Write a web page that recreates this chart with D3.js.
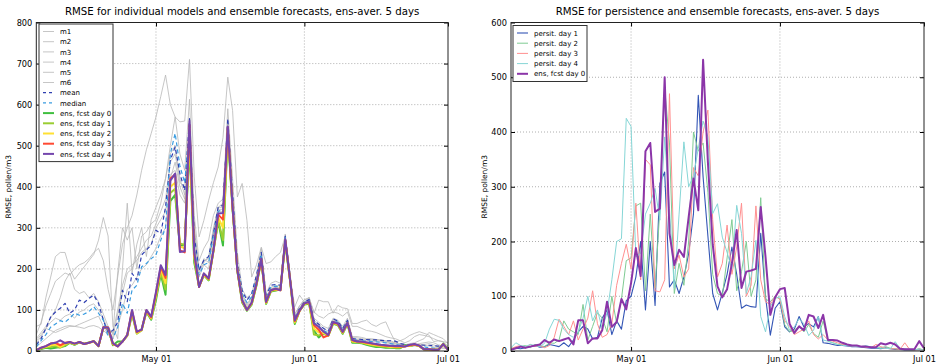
<!DOCTYPE html>
<html>
<head>
<meta charset="utf-8">
<script src="https://cdn.jsdelivr.net/npm/d3@7"></script>
<style>
body { margin: 0; background: #fff; }
text { font-family: "DejaVu Sans", sans-serif; fill: #000; }
</style>
</head>
<body>
<svg id="chart" width="938" height="364"></svg>
<script>
// daily values, Apr 06 .. Jul 01
var days = d3.timeDay.range(new Date(2014, 3, 6), new Date(2014, 6, 2));
var xTickDates = [new Date(2014, 4, 1), new Date(2014, 5, 1), new Date(2014, 6, 1)];

// individual models
var m1 = [40,70,110,140,170,180,190,185,200,210, 215,225,240,250,220,150,100,180,260,300,
  330,380,440,490,530,570,620,672,600,570, 558,560,710,424,278,318,367,410,448,520,
  667,586,375,408,318,180,210,253,213,217, 230,240,280,180,108,136,119,131,92,124,
  120,120,92,111,105,103,67,67,72,75, 65,60,67,71,45,22,25,30,38,43, 47,43,39,23,25,23,20];
var m2 = [60,65,130,180,230,240,240,200,175,190, 205,220,235,270,325,280,60,30,200,360,
  190,260,300,230,320,350,380,420,500,570, 480,440,613,330,220,250,270,330,360,370,
  590,420,240,150,130,140,185,250,140,165, 170,165,285,190,90,110,125,130,80,70,
  60,55,80,75,60,80,35,35,33,30, 30,28,27,25,25,20,15,15,18,20, 25,30,45,40,35,30,18];
var m3 = [30,45,60,80,100,130,170,190,150,140, 145,130,140,120,90,60,40,190,300,270,
  300,200,280,290,310,320,360,420,480,500, 420,380,520,290,190,215,230,300,350,360,
  560,380,215,140,115,130,175,240,130,155, 160,158,278,185,85,104,120,125,75,65,
  55,48,76,72,55,75,33,32,30,28, 28,28,26,24,22,20,18,16,14,16, 18,20,22,20,15,12,10];
var m4 = [20,35,55,70,80,75,85,90,80,95, 100,110,115,100,80,50,45,100,160,200,
  210,220,240,250,260,300,320,340,430,440, 380,360,520,300,200,220,225,290,350,350,
  545,365,210,135,112,128,170,232,125,150, 155,152,275,183,80,102,118,122,70,62,
  50,42,73,70,50,72,30,28,27,26, 25,25,24,22,20,18,17,15,12,14, 15,16,18,15,10,8,8];
var m5 = [10,20,30,40,50,55,60,62,60,65, 70,75,80,85,60,40,30,60,100,150,
  160,180,200,210,230,250,280,300,420,460, 400,370,540,290,180,210,200,280,340,340,
  540,360,200,128,105,120,168,230,122,150, 152,150,272,182,78,100,117,121,68,60,
  48,40,72,68,48,70,28,26,25,24, 24,23,22,20,18,16,15,13,12,12, 14,14,12,10,8,6,6];
var m6 = [25,40,55,50,45,50,55,60,60,58, 55,60,62,58,50,40,35,90,140,190,
  200,230,250,270,280,310,340,370,460,480, 410,400,560,300,195,225,215,285,345,345,
  550,370,205,130,108,124,172,235,125,152, 155,152,270,180,90,110,125,128,95,85,
  80,90,95,92,85,95,60,60,55,50, 48,45,40,35,32,30,25,20,25,35, 40,38,35,30,25,22,12];

var meanVals = [15,30,55,83,95,104,116,92,100,124, 118,128,136,116,75,45,50,70,148,120,
  189,173,234,246,258,294,286,351,465,497, 432,391,566,278,197,221,230,286,351,355,
  566,383,217,148,124,140,185,240,135,160, 162,160,280,185,82,104,120,125,75,65,
  55,48,78,73,55,75,30,29,28,28, 27,27,26,25,25,24,18,16,15,15, 15,14,14,13,12,14,10];
var medianVals = [10,25,40,58,66,74,70,80,92,87, 90,96,108,92,75,35,31,58,116,92,
  148,160,205,213,225,234,270,300,480,530, 450,410,540,260,185,210,215,280,340,345,
  540,370,210,140,118,132,175,235,130,155, 158,155,276,182,80,102,118,122,70,60,
  50,44,74,70,52,72,28,26,25,24, 23,22,21,20,18,16,14,13,13,14, 13,10,8,7,6,14,6];

// ensemble forecasts, day 0..4
var ens0 = [2,5,8,6,8,10,12,20,15,21, 18,21,24,12,56,56,14,23,23,38,
  90,44,53,95,76,124,188,137,365,380, 254,260,500,215,157,185,172,245,315,257,
  532,345,195,118,98,113,160,221,115,145, 147,150,263,172,66,98,113,115,50,33,
  45,38,66,63,42,66,20,20,19,15, 12,10,10,8,8,7,7,14,12,15, 12,4,3,3,3,18,5];
var ens1 = [2,6,9,10,12,8,14,20,16,21, 17,20,23,12,57,56,16,14,23,37,
  92,42,50,96,78,130,192,150,385,395, 262,258,515,225,157,185,173,242,318,270,
  535,347,195,120,99,115,162,222,116,146, 148,149,266,173,68,98,114,117,40,38,
  42,37,67,64,43,67,22,21,20,17, 14,12,11,10,9,8,8,12,12,15, 12,4,3,3,3,17,4];
var ens2 = [2,7,10,14,16,10,17,21,17,22, 17,20,23,12,57,57,17,12,23,38,
  96,44,51,98,80,137,200,165,400,410, 255,250,530,232,156,187,175,244,325,300,
  540,349,196,122,100,116,163,223,118,147, 150,148,268,174,71,98,115,118,55,45,
  44,38,69,65,45,68,24,22,21,18, 16,14,13,12,10,10,10,12,13,16, 12,4,3,3,3,17,3];
var ens3 = [2,8,12,18,20,14,20,22,18,22, 17,20,24,12,58,57,18,11,23,39,
  98,46,52,99,82,140,205,178,420,430, 245,240,550,236,156,188,176,245,332,320,
  545,350,197,123,100,117,164,224,119,148, 151,148,270,175,73,98,116,119,63,52,
  33,38,70,66,46,68,26,23,22,20, 18,16,14,13,12,11,11,11,14,16, 13,4,4,3,3,17,3];
var ens4 = [2,8,12,18,20,26,19,22,18,22, 17,20,24,12,58,57,19,11,23,39,
  100,47,52,100,84,144,209,185,415,432, 241,243,560,240,156,189,177,245,335,336,
  547,351,197,124,100,118,165,225,120,148, 152,148,272,175,75,99,116,120,67,59,
  47,39,71,67,47,69,27,23,23,21, 19,17,15,14,13,12,12,11,15,17, 13,4,4,3,3,17,3];

// persistence forecasts
var persit1 = [3,5,4,6,8,10,7,8,12,10, 8,15,8,20,35,45,40,22,25,60,
  75,30,55,40,92,100,135,200,75,200, 83,306,327,117,130,105,135,178,251,467,
  318,210,105,75,106,140,190,140,78,84, 81,80,215,99,29,78,90,44,35,40,
  63,44,50,44,63,15,14,12,10,10, 9,8,8,7,6,5,5,4,6,4, 3,3,2,2,2,3,2];
var persit2 = [5,6,8,10,6,12,10,8,15,14, 20,55,40,35,30,85,20,45,70,60,
  35,100,50,95,165,170,265,270,110,250, 115,260,480,380,105,160,120,200,400,365,
  380,290,140,105,100,170,240,110,145,200, 100,130,280,95,90,100,95,48,35,38,
  45,35,48,32,25,55,18,15,12,12, 11,10,9,8,8,7,6,6,8,5, 4,3,3,2,2,4,2];
var persit3 = [4,8,10,5,12,8,10,6,10,25, 58,45,30,55,20,40,60,110,50,25,
  30,50,120,160,195,150,270,130,350,340, 110,108,130,470,150,175,135,150,335,320,
  400,440,240,135,160,230,140,190,270,100, 120,265,130,90,85,100,95,55,45,30,
  35,40,55,30,22,30,20,18,15,12, 10,9,8,8,7,6,12,8,5,4, 4,3,15,3,2,2,2];
var persit4 = [6,15,10,8,12,10,8,14,40,58, 56,40,30,25,35,60,100,55,75,40,
  70,130,200,205,425,410,172,178,250,270, 297,239,391,260,115,250,382,300,320,370,
  420,391,251,269,208,180,150,266,215,105, 136,202,63,35,81,96,99,63,38,44,
  59,50,28,38,63,20,18,15,12,10, 10,9,8,8,10,7,6,5,5,4, 17,5,4,3,3,2,2];

var svg = d3.select("#chart");

function drawPanel(p) {
    var x = d3.scaleTime().domain([days[0], days[days.length - 1]]).range([p.x0, p.x1]);
    var y = d3.scaleLinear().domain([0, p.yMax]).range([p.y1, p.y0]);
    var g = svg.append("g");

    // dotted grid
    g.selectAll(".gy").data(d3.range(100, p.yMax, 100)).enter().append("line")
        .attr("x1", p.x0).attr("x2", p.x1)
        .attr("y1", function(d) { return y(d); }).attr("y2", function(d) { return y(d); })
        .attr("stroke", "#9a9a9a").attr("stroke-width", 0.8).attr("stroke-dasharray", "1,2");
    g.selectAll(".gx").data(xTickDates.slice(0, 2)).enter().append("line")
        .attr("y1", p.y0).attr("y2", p.y1)
        .attr("x1", function(d) { return x(d); }).attr("x2", function(d) { return x(d); })
        .attr("stroke", "#9a9a9a").attr("stroke-width", 0.8).attr("stroke-dasharray", "1,2");

    svg.append("clipPath").attr("id", p.id + "clip").append("rect")
        .attr("x", p.x0).attr("y", p.y0).attr("width", p.x1 - p.x0).attr("height", p.y1 - p.y0);

    var line = d3.line()
        .x(function(d, i) { return x(days[i]); })
        .y(function(d) { return y(d); });

    g.append("g").attr("clip-path", "url(#" + p.id + "clip)")
        .selectAll("path").data(p.series).enter().append("path")
        .attr("d", function(s) { return line(s.values); })
        .attr("fill", "none")
        .attr("stroke", function(s) { return s.color; })
        .attr("stroke-width", function(s) { return s.width; })
        .attr("stroke-dasharray", function(s) { return s.dash || null; })
        .attr("stroke-linejoin", "round");

    // axes with inward ticks on all sides
    var yTicks = d3.range(0, p.yMax + 1, 100);
    var ax = [
        g.append("g").attr("transform", "translate(" + p.x0 + ",0)")
            .call(d3.axisLeft(y).tickValues(yTicks).tickSize(-4).tickPadding(4)),
        g.append("g").attr("transform", "translate(" + p.x1 + ",0)")
            .call(d3.axisRight(y).tickValues(yTicks).tickSize(-4).tickFormat("")),
        g.append("g").attr("transform", "translate(0," + p.y1 + ")")
            .call(d3.axisBottom(x).tickValues(xTickDates).tickSize(-4).tickPadding(5)
                .tickFormat(d3.timeFormat("%b %d"))),
        g.append("g").attr("transform", "translate(0," + p.y0 + ")")
            .call(d3.axisTop(x).tickValues(xTickDates).tickSize(-4).tickFormat(""))
    ];
    ax.forEach(function(a) {
        a.select(".domain").remove();
        a.selectAll("text").attr("font-size", 8.2).attr("font-family", "DejaVu Sans");
        a.selectAll("line").attr("stroke", "#000");
    });

    g.append("rect").attr("x", p.x0).attr("y", p.y0)
        .attr("width", p.x1 - p.x0).attr("height", p.y1 - p.y0)
        .attr("fill", "none").attr("stroke", "#222").attr("stroke-width", 1);

    g.append("text").attr("x", (p.x0 + p.x1) / 2).attr("y", 15)
        .attr("text-anchor", "middle").attr("font-size", 10.2).text(p.title);
    g.append("text")
        .attr("transform", "translate(" + p.labelX + "," + ((p.y0 + p.y1) / 2) + ") rotate(-90)")
        .attr("text-anchor", "middle").attr("font-size", 7.5).text("RMSE, pollen/m3");

    // legend
    var lg = g.append("g");
    var step = 10.2;
    lg.append("rect").attr("x", p.lx).attr("y", p.ly)
        .attr("width", p.lw).attr("height", p.series.length * step + 5)
        .attr("fill", "#fff").attr("stroke", "#333").attr("stroke-width", 1);
    var item = lg.selectAll(".item").data(p.series).enter().append("g")
        .attr("transform", function(d, i) { return "translate(" + (p.lx + 4) + "," + (p.ly + 7.5 + i * step) + ")"; });
    item.append("line").attr("x1", 0).attr("x2", 11).attr("y1", 0).attr("y2", 0)
        .attr("stroke", function(s) { return s.color; })
        .attr("stroke-width", function(s) { return s.legendWidth || s.width; })
        .attr("stroke-dasharray", function(s) { return s.dash ? "3,3" : null; });
    item.append("text").attr("x", 17).attr("y", 2.6).attr("font-size", 7).text(function(s) { return s.name; });
}

var gray = "#b8b8b8";
var leftSeries = [
    { name: "m1", values: m1, color: gray, width: 0.8 },
    { name: "m2", values: m2, color: gray, width: 0.8 },
    { name: "m3", values: m3, color: gray, width: 0.8 },
    { name: "m4", values: m4, color: gray, width: 0.8 },
    { name: "m5", values: m5, color: gray, width: 0.8 },
    { name: "m6", values: m6, color: gray, width: 0.8 },
    { name: "mean", values: meanVals, color: "#2f3fb0", width: 1.2, dash: "4,3" },
    { name: "median", values: medianVals, color: "#3a9ce0", width: 1.2, dash: "4,3" },
    { name: "ens, fcst day 0", values: ens0, color: "#3fbf3f", width: 2 },
    { name: "ens, fcst day 1", values: ens1, color: "#9acd32", width: 2 },
    { name: "ens, fcst day 2", values: ens2, color: "#ffe033", width: 2 },
    { name: "ens, fcst day 3", values: ens3, color: "#ff4a33", width: 2 },
    { name: "ens, fcst day 4", values: ens4, color: "#7446ad", width: 2 }
];
var rightSeries = [
    { name: "persit. day 1", values: persit1, color: "#3355b5", width: 1.1 },
    { name: "persit. day 2", values: persit2, color: "#7fcb93", width: 1 },
    { name: "persit. day 3", values: persit3, color: "#ff9090", width: 1 },
    { name: "persit. day 4", values: persit4, color: "#86d6d6", width: 1 },
    { name: "ens, fcst day 0", values: ens0, color: "#8b35a8", width: 2 }
];

drawPanel({ id: "L", x0: 36.3, x1: 448, y0: 22.5, y1: 351, yMax: 800, labelX: 11,
    lx: 39, ly: 24, lw: 74,
    title: "RMSE for individual models and ensemble forecasts, ens-aver. 5 days",
    series: leftSeries });
drawPanel({ id: "R", x0: 511, x1: 924, y0: 22.5, y1: 351, yMax: 600, labelX: 487,
    lx: 513, ly: 25.5, lw: 74,
    title: "RMSE for persistence and ensemble forecasts, ens-aver. 5 days",
    series: rightSeries });
</script>
</body>
</html>
